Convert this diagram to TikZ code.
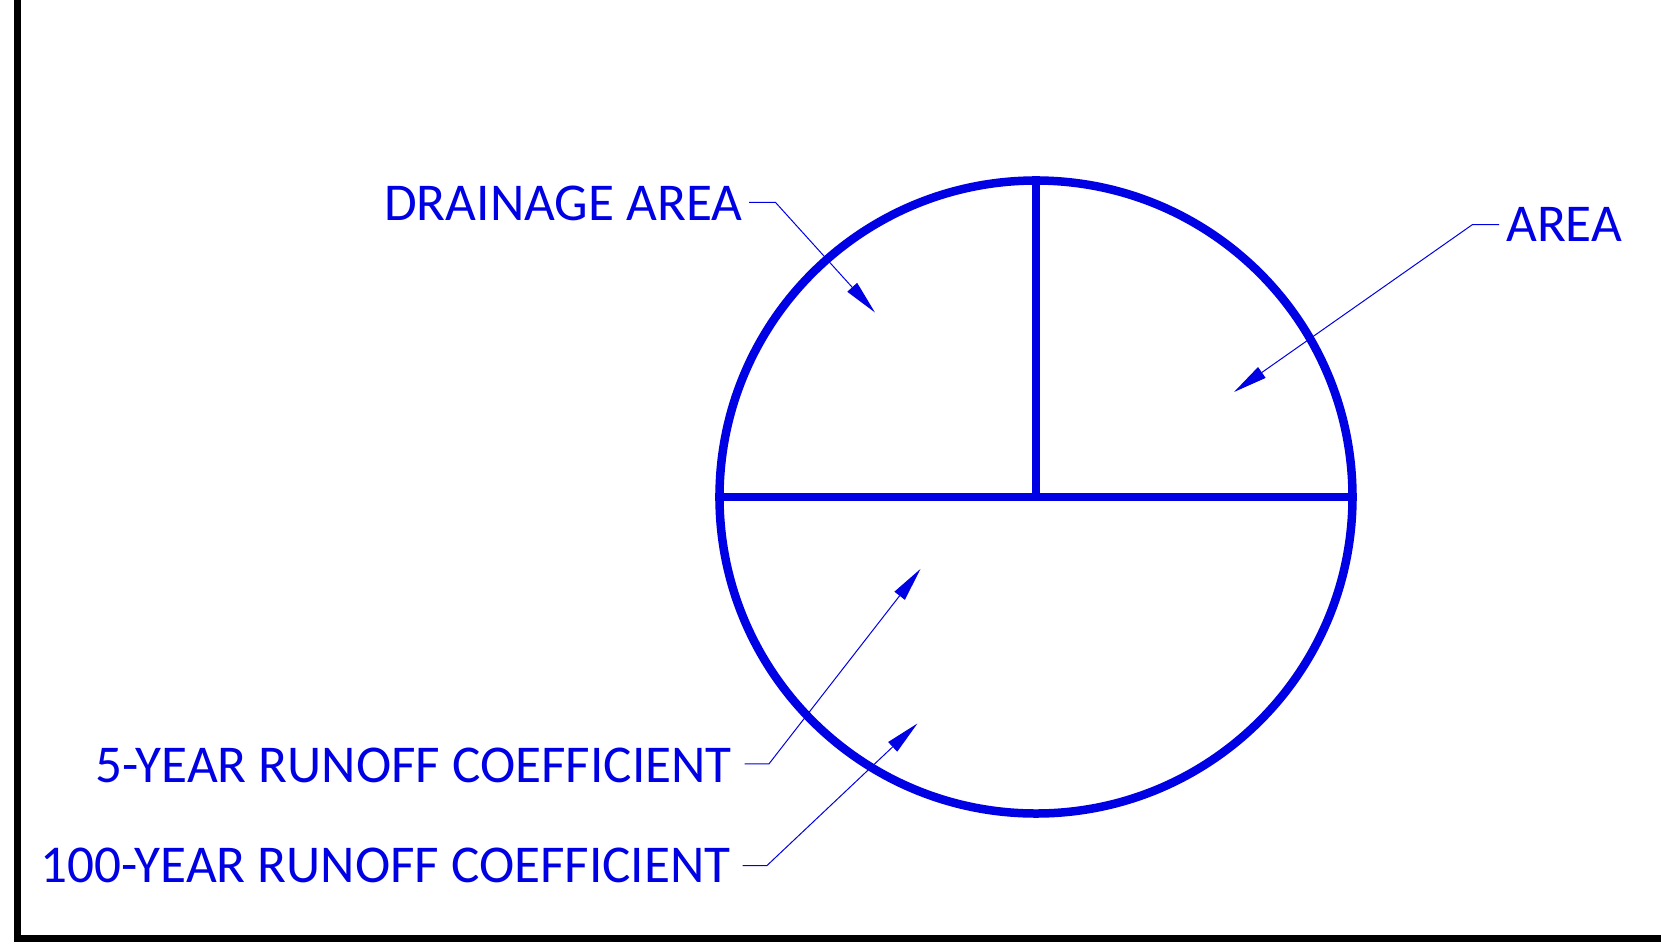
\documentclass[tikz,border=0pt]{standalone}
\usepackage{fontspec}
\setmainfont{Carlito}
\usetikzlibrary{arrows.meta}
\definecolor{cadblue}{RGB}{0,0,228}
\tikzset{
  lbl/.style={text=cadblue, font=\fontsize{53.2}{60}\selectfont, inner sep=0pt},
  heavy/.style={draw=cadblue, line width=8.5pt},
  leader/.style={draw=cadblue, line width=1pt, -{Triangle[length=34pt,width=13pt]}},
  frame/.style={draw=black, line width=7pt}
}
\begin{document}
\begin{tikzpicture}[x=1pt,y=-1pt]
\useasboundingbox (0,0) rectangle (1661,946);
% frame
\coordinate (ftop) at (17,0);
\coordinate (fcorner) at (17,938);
\coordinate (fright) at (1661,938);
\draw[frame] (ftop) -- (fcorner) -- (fright);
% circle
\coordinate (c) at (1036,497);
\node[heavy, circle, minimum size=633pt, inner sep=0pt, line width=8.5pt] (circ) at (c) {};
\draw[heavy] (circ.west) -- (circ.east);
\draw[heavy] (circ.north) -- (c);
% labels
\node[lbl, anchor=base west] (t1) at (384,220) {DRAINAGE AREA};
\node[lbl, anchor=base west] (t2) at (1506,241.5) {AREA};
\node[lbl, anchor=base west] (t3) at (95,782) {5-YEAR RUNOFF COEFFICIENT};
\node[lbl, anchor=base west] (t4) at (40,882) {100-YEAR RUNOFF COEFFICIENT};
% leaders
\coordinate (s1) at (749,202.3);  \coordinate (k1) at (775.4,202.3); \coordinate (a1) at (875,312.5);
\coordinate (s2) at (1499,224.6); \coordinate (k2) at (1472.4,224.6); \coordinate (a2) at (1234,392);
\coordinate (s3) at (744.7,763.8); \coordinate (k3) at (769,763.8); \coordinate (a3) at (920.5,568.9);
\coordinate (s4) at (742.6,865.5); \coordinate (k4) at (767,865.5); \coordinate (a4) at (917.4,723.5);
\draw[leader] (s1) -- (k1) -- (a1);
\draw[leader] (s2) -- (k2) -- (a2);
\draw[leader] (s3) -- (k3) -- (a3);
\draw[leader] (s4) -- (k4) -- (a4);
\end{tikzpicture}
\end{document}
